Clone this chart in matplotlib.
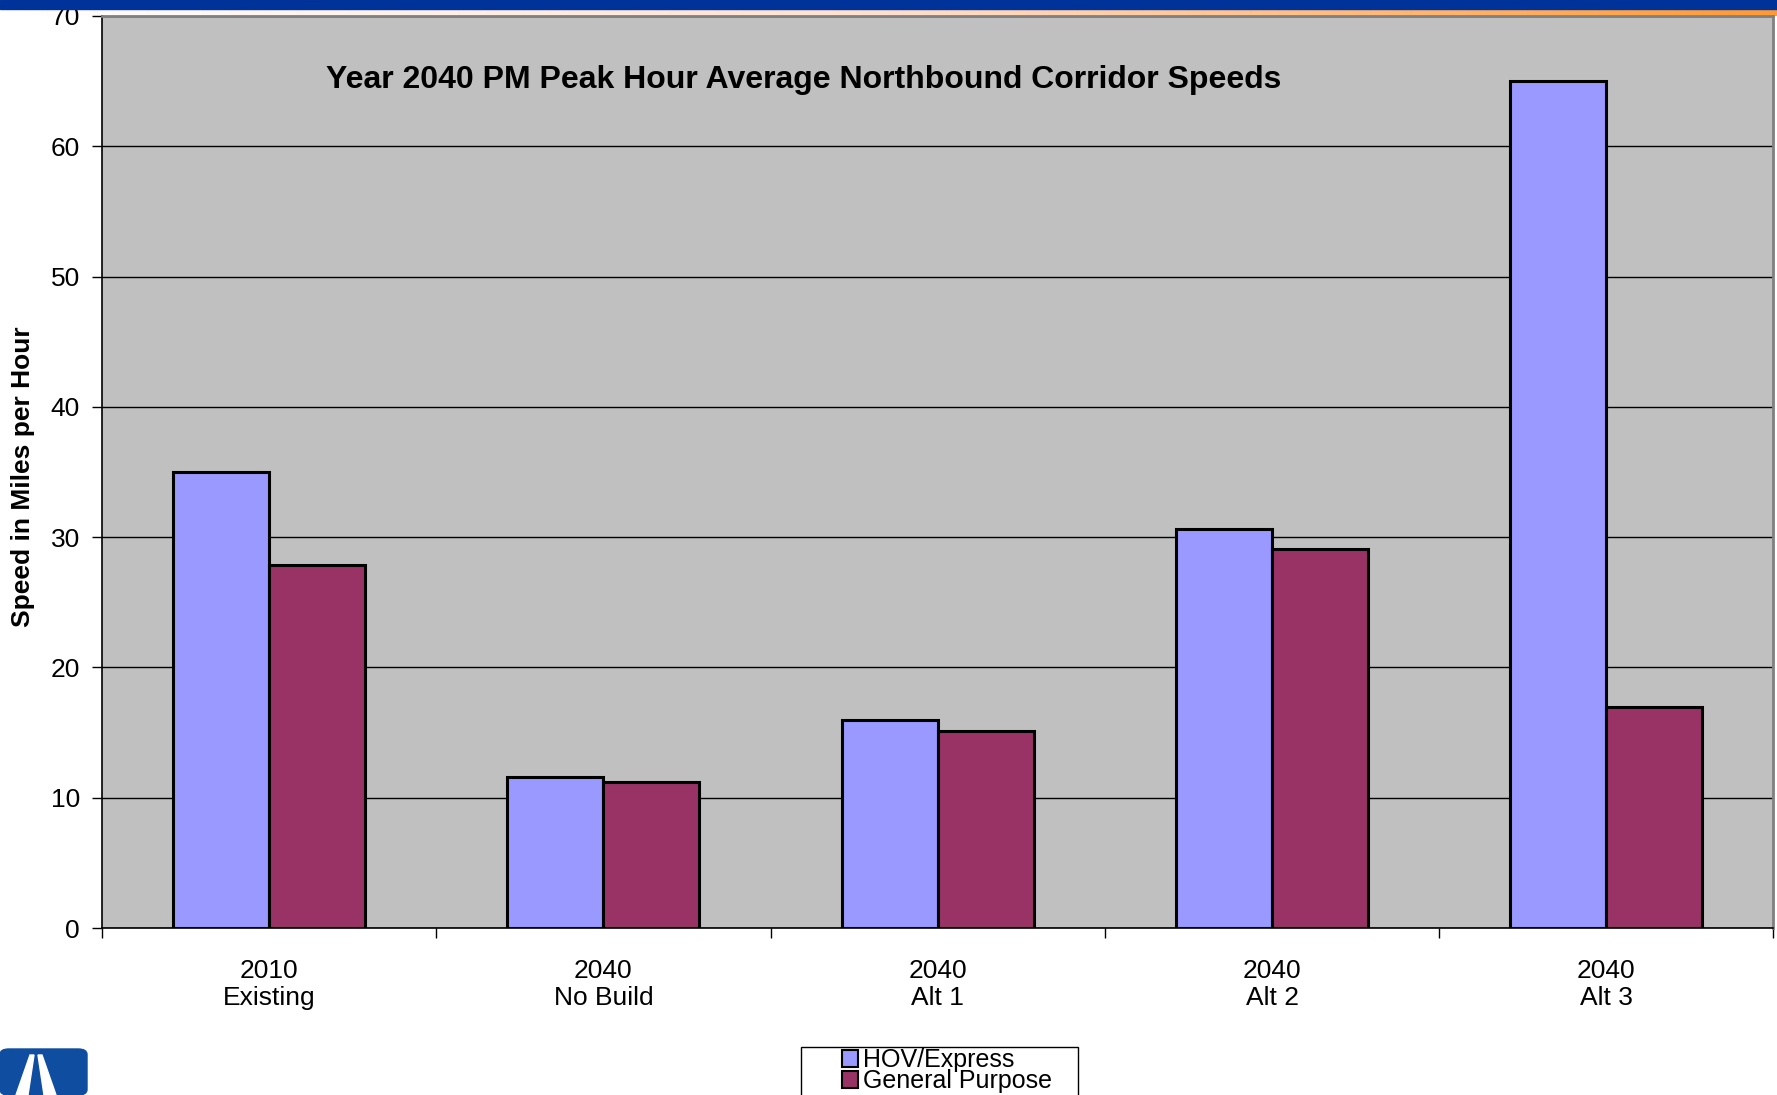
import matplotlib
matplotlib.use('Agg')
import matplotlib.pyplot as plt
import numpy as np
from matplotlib.patches import Rectangle, FancyBboxPatch, Polygon
from matplotlib.colors import LinearSegmentedColormap

plt.rcParams['font.family'] = ['Liberation Sans', 'DejaVu Sans']

categories = ['2010\nExisting', '2040\nNo Build', '2040\nAlt 1', '2040\nAlt 2', '2040\nAlt 3']
hov_express = [35.0, 11.6, 16.0, 30.6, 65.0]
general_purpose = [27.9, 11.2, 15.1, 29.1, 17.0]
series_names = ['HOV/Express', 'General Purpose']

fig = plt.figure(figsize=(17.77, 10.95), dpi=100)
ax = fig.add_axes([0.0574, 0.1525, 0.9406, 0.8329])

x = np.arange(len(categories))
w = 0.287
ax.bar(x - w / 2, hov_express, w, color='#9999FF', edgecolor='black', linewidth=2.2,
       label=series_names[0], zorder=3)
ax.bar(x + w / 2, general_purpose, w, color='#993366', edgecolor='black', linewidth=2.2,
       label=series_names[1], zorder=3)

ax.set_facecolor('#C0C0C0')
ax.set_xlim(-0.5, len(categories) - 0.5)
ax.set_ylim(0, 70)
ax.set_yticks(range(0, 71, 10))
ax.yaxis.grid(True, color='black', linewidth=1.0, zorder=1)
ax.set_axisbelow(True)

# category boundaries as ticks, labels in between
ax.set_xticks(np.arange(-0.5, len(categories), 1.0))
ax.set_xticklabels([])
ax.set_xticks(x, minor=True)
ax.set_xticklabels(categories, minor=True, fontsize=19, linespacing=1.2)
ax.tick_params(axis='x', which='minor', length=0, pad=22)
ax.tick_params(axis='x', which='major', length=7, width=1, color='black')
ax.tick_params(axis='y', length=7, width=1, labelsize=19, pad=9)

for s in ['left', 'bottom']:
    ax.spines[s].set_color('black')
    ax.spines[s].set_linewidth(1.2)
for s in ['top', 'right']:
    ax.spines[s].set_color('#808080')
    ax.spines[s].set_linewidth(2)

fig.text(0.013, 0.565, 'Speed in Miles per Hour', rotation=90, ha='center', va='center',
         fontsize=19, fontweight='bold')
fig.text(0.452, 0.927, 'Year 2040 PM Peak Hour Average Northbound Corridor Speeds',
         ha='center', va='center', fontsize=23, fontweight='bold')

# legend box (frame drawn separately so it can run off the bottom edge)
fig.patches.append(Rectangle((801 / 1777, -0.02), 277 / 1777, 0.02 + 48 / 1095,
                             transform=fig.transFigure, facecolor='white',
                             edgecolor='black', linewidth=1.0, zorder=2))
leg = fig.legend(loc='upper left', bbox_to_anchor=(842 / 1777, 1 - 1048 / 1095),
                 frameon=False, fontsize=18, handlelength=0.65, handleheight=0.65,
                 handletextpad=0.2, labelspacing=-0.12, borderpad=0.0, borderaxespad=0)
leg.set_zorder(3)
for h in leg.legend_handles:
    h.set_linewidth(1.5)

# header band and logo decoration
fig.patches.append(Rectangle((0, 1 - 9 / 1095), 1, 9 / 1095, transform=fig.transFigure,
                             color='#003399', zorder=0))
grad = np.linspace(0, 1, 256).reshape(1, -1)
cmap = LinearSegmentedColormap.from_list('o', ['#FFFFFF', '#FFE0CC', '#FF9933'])
gax = fig.add_axes([0.0, 1 - 16 / 1095, 1.0, 7 / 1095], zorder=-1)
gax.imshow(grad, aspect='auto', cmap=cmap)
gax.axis('off')

fig.patches.append(FancyBboxPatch((0, 0), 87 / 1777, 46 / 1095, transform=fig.transFigure,
                                  boxstyle='round,pad=0,rounding_size=0.005',
                                  color='#0F4DA0', zorder=0))
fig.patches.append(Polygon([(16 / 1777, 0), (30 / 1777, 40 / 1095), (34 / 1777, 40 / 1095),
                            (28 / 1777, 0)], closed=True, transform=fig.transFigure,
                           color='white', zorder=1))
fig.patches.append(Polygon([(44 / 1777, 0), (38 / 1777, 40 / 1095), (42 / 1777, 40 / 1095),
                            (56 / 1777, 0)], closed=True, transform=fig.transFigure,
                           color='white', zorder=1))

fig.savefig('out.png', dpi=100)
